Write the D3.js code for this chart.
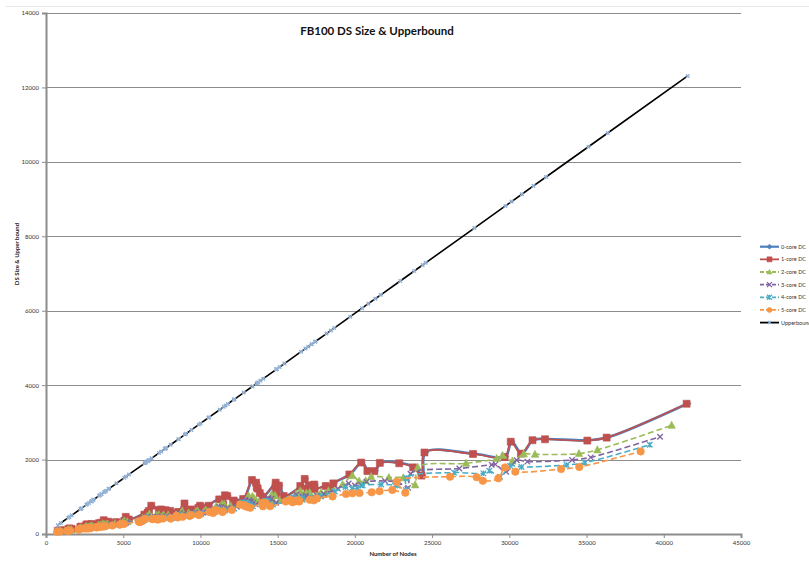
<!DOCTYPE html>
<html>
<head>
<meta charset="utf-8">
<script src="https://cdnjs.cloudflare.com/ajax/libs/d3/7.8.5/d3.min.js"></script>
<style>
  html, body { margin: 0; padding: 0; background: #fff; }
  svg { display: block; }
  text { font-family: Lato, "Liberation Sans", sans-serif; }
</style>
</head>
<body>
<svg id="chart" width="809" height="561"></svg>
<script>
// ---------------- DATA ----------------
const title = "FB100 DS Size & Upperbound";
const xTitle = "Number of Nodes";
const yTitle = "DS Size & Upper bound";
const xTicks = [0, 5000, 10000, 15000, 20000, 25000, 30000, 35000, 40000, 45000];
const yTicks = [0, 2000, 4000, 6000, 8000, 10000, 12000, 14000];
const seriesNames = ["0-core DC", "1-core DC", "2-core DC", "3-core DC", "4-core DC", "5-core DC", "Upperbound"];

const nodes = [769,962,1446,1518,1659,2235,2252,2314,2613,2682,
2790,2920,2970,2970,3068,3075,3445,3482,3578,3593,
3748,3826,3898,4047,4087,4563,5075,5180,5372,6386,
6440,6472,6591,6596,6637,6682,6833,7324,7460,7694,
7752,7755,7772,8069,8578,8600,8991,9069,9414,9895,
10004,10521,10567,11247,11509,11621,11770,12155,12193,12803,
13377,13640,13686,13746,13882,14070,14916,14917,14940,14948,
15126,15436,16516,16800,16977,17196,17206,17425,17444,18163,
18448,18660,19700,20467,20871,21325,21679,22937,23842,24389,
24580,27737,29747,30147,30809,31560,32375,35123,36371,41554];

const upperbound = [238,295,438,459,501,672,677,695,783,804,
836,874,889,889,918,920,1030,1041,1069,1074,
1119,1143,1164,1208,1220,1361,1512,1543,1600,1900,
1916,1926,1961,1962,1975,1988,2033,2178,2218,2287,
2305,2305,2311,2398,2549,2556,2671,2694,2797,2939,
2971,3124,3138,3339,3417,3450,3494,3608,3619,3800,
3970,4047,4061,4079,4119,4175,4425,4425,4432,4435,
4487,4579,4899,4983,5035,5100,5103,5168,5173,5386,
5471,5533,5841,6068,6188,6322,6427,6799,7067,7229,
7286,8220,8815,8934,9129,9352,9593,10406,10776,12310];

const core0DS = [88,108,129,153,144,194,183,204,255,264,
224,234,275,244,234,229,295,264,305,275,
375,295,315,336,305,326,356,466,396,527,
477,467,567,547,587,627,767,647,668,548,
648,568,628,628,588,598,828,628,668,708,
768,728,768,938,808,1048,1028,838,908,948,
1458,1388,1258,1228,1108,1008,1388,1298,1168,1058,
1308,1028,1298,1488,1228,1278,1318,1338,1218,1298,
1238,1368,1608,1928,1698,1698,1918,1908,1798,1578,
2198,2158,2078,2488,2168,2528,2553,2518,2598,3508];

const core1Nodes = [762,955,1440,1510,1655,2230,2250,2310,2605,2675,
2785,2910,2960,2965,3060,3070,3435,3475,3570,3585,
3735,3820,3890,4035,4080,4550,5065,5165,5360,6370,
6425,6455,6575,6580,6620,6665,6815,7305,7440,7675,
7730,7735,7750,8045,8555,8575,8965,9040,9385,9865,
9975,10490,10535,11215,11475,11585,11735,12120,12155,12765,
13335,13600,13645,13705,13840,14030,14870,14870,14895,14905,
15080,15390,16465,16750,16925,17145,17155,17370,17390,18110,
18390,18605,19640,20405,20810,21260,21615,22870,23770,24315,
24505,27650,29700,30090,30750,31500,32310,35050,36300,41480];
const core1DS = [85,105,125,150,140,190,180,200,250,260,
220,230,270,240,230,225,290,260,300,270,
370,290,310,330,300,320,350,460,390,520,
470,460,560,540,580,620,760,640,660,540,
640,560,620,620,580,590,820,620,660,700,
760,720,760,930,800,1040,1020,830,900,940,
1450,1380,1250,1220,1100,1000,1380,1290,1160,1050,
1300,1020,1290,1480,1220,1270,1310,1330,1210,1290,
1230,1360,1600,1920,1690,1690,1910,1900,1790,1570,
2190,2150,2070,2480,2160,2520,2545,2510,2590,3500];

const core2Nodes = [750,940,1415,1485,1625,2190,2205,2265,2560,2630,
2735,2860,2910,2905,3005,3015,3375,3410,3505,3520,
3670,3750,3820,3965,4005,4470,4975,5075,5265,6260,
6310,6340,6460,6465,6505,6550,6695,7180,7310,7540,
7595,7600,7615,7910,8405,8430,8810,8890,9225,9695,
9805,10310,10355,11020,11280,11390,11535,11910,11950,12545,
13110,13365,13410,13470,13605,13790,14615,14620,14640,14650,
14825,15125,16185,16465,16635,16850,16860,17075,17095,17800,
18080,18285,19200,19830,20270,20700,21050,22200,23130,23900,
24070,27195,29180,29560,30200,30930,31660,34510,35700,40510];
const core2DS = [75,85,105,118,115,155,150,165,190,195,
185,195,210,200,200,195,230,220,240,228,
270,245,255,265,255,280,305,350,330,420,
400,395,440,430,450,470,540,500,515,470,
510,480,500,510,500,510,620,540,565,595,
630,620,640,740,690,800,795,720,755,790,
1030,1010,960,950,900,860,1060,1020,960,905,
1040,900,1070,1160,1040,1075,1100,1115,1055,1110,
1085,1160,1330,1570,1420,1430,1540,1515,1510,1320,
1790,1900,2030,2110,1960,2150,2140,2160,2260,2920];

const core3Nodes = [740,925,1395,1465,1600,2155,2175,2235,2520,2590,
2690,2820,2865,2860,2960,2965,3325,3360,3455,3465,
3615,3690,3760,3905,3945,4405,4895,5000,5185,6160,
6215,6245,6360,6365,6405,6450,6595,7070,7200,7425,
7480,7485,7500,7785,8280,8300,8675,8750,9085,9550,
9655,10155,10195,10855,11105,11215,11360,11730,11765,12355,
12910,13160,13205,13265,13395,13580,14395,14395,14415,14425,
14595,14895,15940,16210,16385,16595,16605,16815,16835,17525,
17800,18005,18900,19600,20000,20400,20750,21950,22800,23450,
23600,26760,28860,29100,29790,30480,31165,34060,35270,39760];
const core3DS = [70,78,96,105,106,140,138,150,172,178,
170,178,190,182,185,180,210,202,218,210,
240,226,234,242,236,260,283,318,305,385,
368,365,402,395,410,425,480,455,468,436,
468,445,460,470,465,472,560,500,522,550,
580,575,590,675,640,728,725,668,697,730,
920,905,870,862,825,795,960,928,880,838,
948,838,985,1055,962,993,1015,1028,978,1030,
1010,1075,1220,1355,1305,1318,1400,1425,1392,1240,
1620,1760,1860,1870,1675,1980,1945,1990,2060,2615];

const core4Nodes = [730,915,1375,1445,1580,2125,2145,2200,2490,2555,
2655,2780,2830,2825,2920,2925,3280,3315,3405,3420,
3565,3640,3710,3850,3890,4345,4830,4930,5115,6080,
6130,6160,6275,6280,6320,6360,6505,6970,7100,7325,
7380,7380,7400,7680,8165,8185,8560,8635,8960,9420,
9525,10015,10060,10705,10955,11065,11205,11570,11610,12190,
12735,12985,13030,13085,13215,13395,14200,14200,14225,14230,
14400,14695,15725,15995,16160,16370,16380,16590,16605,17290,
17560,17765,18700,19400,19800,20200,20500,21700,22600,23300,
23330,26420,28320,28700,29400,30050,30780,33710,34900,39090];
const core4DS = [65,72,90,98,98,130,128,138,160,165,
158,166,175,170,172,168,195,188,204,196,
222,210,218,225,220,243,265,295,285,360,
345,342,375,368,382,395,440,425,436,410,
438,418,430,440,438,445,520,470,490,515,
542,540,553,630,600,678,676,628,652,684,
850,838,810,803,772,746,893,866,825,788,
886,790,925,985,905,934,953,966,922,970,
954,1012,1140,1260,1222,1236,1305,1330,1305,1180,
1505,1650,1630,1700,1540,1830,1800,1855,1915,2400];

const core5Nodes = [720,900,1360,1425,1560,2100,2115,2175,2455,2520,
2625,2745,2790,2790,2885,2890,3240,3275,3365,3375,
3520,3595,3665,3805,3840,4290,4770,4870,5050,6000,
6055,6085,6195,6200,6240,6280,6425,6885,7010,7230,
7285,7290,7305,7585,8065,8085,8450,8525,8850,9300,
9405,9890,9935,10570,10820,10925,11065,11425,11460,12035,
12575,12820,12865,12920,13050,13225,14020,14020,14045,14050,
14220,14510,15525,15790,15960,16165,16175,16380,16395,17075,
17340,17540,18550,19425,19833,20300,21090,21600,22425,23265,
22705,26160,27890,28280,29290,29720,30390,33350,34530,38500];
const core5DS = [60,66,84,90,92,120,118,128,150,155,
148,155,162,158,162,158,182,176,190,184,
205,196,204,210,206,228,250,275,268,338,
325,322,352,345,358,370,410,398,408,388,
412,395,405,415,415,420,488,445,462,485,
510,510,522,592,566,636,635,592,614,645,
790,782,758,752,726,705,836,812,776,744,
832,748,872,925,855,882,898,910,872,918,
904,955,1010,1075,1093,1100,1120,1150,1182,1110,
1406,1540,1525,1430,1495,1790,1675,1745,1800,2220];

// ---------------- STYLES ----------------
const styles = [
  {color:"#4F81BD", dash:null, marker:"diamond", lw:2.6},
  {color:"#C0504D", dash:null, marker:"square", lw:1.6},
  {color:"#9BBB59", dash:"6,3", marker:"triangle", lw:1.6},
  {color:"#8064A2", dash:"6,3", marker:"x", lw:1.6},
  {color:"#4BACC6", dash:"6,3", marker:"asterisk", lw:1.6},
  {color:"#F79646", dash:"6,3", marker:"circle", lw:1.6},
  {color:"#000000", dash:null, marker:"ub", lw:1.6}
];

const seriesData = [
  [nodes, core0DS], [core1Nodes, core1DS], [core2Nodes, core2DS],
  [core3Nodes, core3DS], [core4Nodes, core4DS], [core5Nodes, core5DS],
  [nodes, upperbound]
];

// ---------------- CHART ----------------
const svg = d3.select("#chart");
const W = 809, H = 561;
const plot = {left: 46, right: 741, top: 13, bottom: 534};

svg.append("rect").attr("width", W).attr("height", H).attr("fill", "#fff");
svg.append("line").attr("x1", 6).attr("x2", W).attr("y1", 6.5).attr("y2", 6.5)
  .attr("stroke", "#e6e6e6").attr("stroke-width", 1);

const x = d3.scaleLinear().domain([0, 45000]).range([plot.left, plot.right]);
const y = d3.scaleLinear().domain([0, 14000]).range([plot.bottom, plot.top]);

// gridlines
svg.append("g").selectAll("line").data(yTicks.filter(d => d > 0)).join("line")
  .attr("x1", plot.left).attr("x2", plot.right)
  .attr("y1", d => Math.round(y(d)) + 0.5).attr("y2", d => Math.round(y(d)) + 0.5)
  .attr("stroke", "#8c8c8c").attr("stroke-width", 1);

// axes
const yAxis = svg.append("g").attr("transform", `translate(${plot.left},0)`)
  .call(d3.axisLeft(y).tickValues(yTicks).tickSize(4).tickPadding(3).tickFormat(d3.format("d")));
const xAxis = svg.append("g").attr("transform", `translate(0,${plot.bottom})`)
  .call(d3.axisBottom(x).tickValues(xTicks).tickSize(4).tickPadding(3).tickFormat(d3.format("d")));
[yAxis, xAxis].forEach(g => {
  g.select(".domain").attr("stroke", "#8c8c8c").attr("stroke-width", 2);
  g.selectAll(".tick line").attr("stroke", "#8c8c8c").attr("stroke-width", 1);
  g.selectAll(".tick text").attr("fill", "#333").style("font-size", "6px")
    .style("font-family", "Lato, 'Liberation Sans', sans-serif");
});

// marker path
function markerPath(type, s) {
  const h = s / 2;
  switch (type) {
    case "diamond": return `M0,${-h}L${h},0L0,${h}L${-h},0Z`;
    case "square": return `M${-h},${-h}H${h}V${h}H${-h}Z`;
    case "triangle": return `M0,${-h*1.1}L${h},${h*0.8}L${-h},${h*0.8}Z`;
    case "x": return `M${-h},${-h}L${h},${h}M${-h},${h}L${h},${-h}`;
    case "asterisk": return `M${-h},${-h}L${h},${h}M${-h},${h}L${h},${-h}M0,${-h}V${h}`;
    case "circle": return d3.symbol(d3.symbolCircle, Math.PI * h * h)();
    case "ub": return `M${-h},${-h}L${h},${h}M${-h},${h}L${h},${-h}`;
  }
}
const filled = {diamond:true, square:true, triangle:true, circle:true, x:false, asterisk:false, ub:false};
function drawMarker(g, type, color, px, py, size) {
  const p = g.append("path").attr("d", markerPath(type, size))
    .attr("transform", `translate(${px},${py})`);
  if (filled[type]) p.attr("fill", color).attr("stroke", color).attr("stroke-width", 0.6);
  else p.attr("fill", "none").attr("stroke", color).attr("stroke-width", type === "ub" ? 1.4 : 1.3);
  return p;
}

const markerSize = {diamond:6.5, square:7, triangle:7.5, x:5.5, asterisk:5.5, circle:7.5, ub:3.5};
const smooth = d3.line().curve(d3.curveCatmullRom.alpha(0.5));
const straight = d3.line();

const plotG = svg.append("g");
seriesData.forEach(([xs, ys], i) => {
  const st = styles[i];
  const pts = xs.map((v, j) => [x(v), y(ys[j])]);
  const gen = i === 6 ? straight : smooth;
  const path = plotG.append("path").attr("d", gen(pts)).attr("fill", "none")
    .attr("stroke", st.color).attr("stroke-width", st.lw).attr("stroke-linejoin", "round");
  if (st.dash) path.attr("stroke-dasharray", st.dash);
  const mg = plotG.append("g");
  const mColor = i === 6 ? "#95B3D7" : st.color;
  pts.forEach(p => drawMarker(mg, st.marker, mColor, p[0], p[1], markerSize[st.marker]));
});

// title
svg.append("text").attr("x", 377).attr("y", 35).attr("text-anchor", "middle")
  .style("font-size", "11.5px").style("font-weight", "bold").attr("fill", "#111").text(title);
// axis titles
svg.append("text").attr("x", 393).attr("y", 556).attr("text-anchor", "middle")
  .style("font-size", "6px").style("font-weight", "bold").attr("fill", "#222").text(xTitle);
svg.append("text").attr("transform", "translate(19,254) rotate(-90)").attr("text-anchor", "middle")
  .style("font-size", "6px").style("font-weight", "bold").attr("fill", "#222").text(yTitle);

// legend
const lg = svg.append("g");
seriesNames.forEach((name, i) => {
  const st = styles[i];
  const ly = 246.7 + i * 12.65;
  const ln = lg.append("line").attr("x1", 760).attr("x2", 779).attr("y1", ly).attr("y2", ly)
    .attr("stroke", st.color).attr("stroke-width", i === 0 ? 2.2 : 1.8);
  if (st.dash) ln.attr("stroke-dasharray", "4,2");
  drawMarker(lg, st.marker, i === 6 ? "#95B3D7" : st.color, 769.5, ly, i === 6 ? 3 : 5);
  lg.append("text").attr("x", 781).attr("y", ly + 2).style("font-size", "5.5px")
    .attr("fill", "#333").text(name);
});
</script>
</body>
</html>
